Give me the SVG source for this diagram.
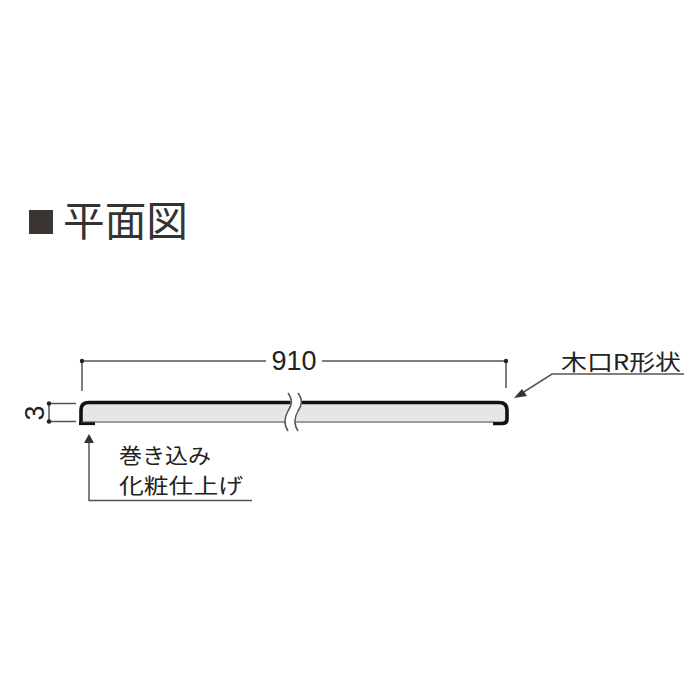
<svg xmlns="http://www.w3.org/2000/svg" width="700" height="700" viewBox="0 0 700 700">
<style>
text{font-family:"Liberation Sans","Noto Sans CJK JP",sans-serif;fill:#222}
.jp{font-family:"Noto Sans CJK JP",sans-serif;font-weight:400}
.thin{fill:none;stroke:#555;stroke-width:1.500}
.dot{fill:#222}
.ah{fill:#333}
</style>
<rect width="700" height="700" fill="#fff"/>
<g id="title">
<rect x="29" y="210" width="24" height="24" fill="#3a3533"/>
<text class="jp" x="63" y="236" font-size="41" textLength="125" lengthAdjust="spacingAndGlyphs" style="fill:#333">平面図</text>
</g>
<g id="board">
<path d="M81 423V410Q81 403 89 403H499Q507 403 507 410V421Q507 423 503 423H81Z" fill="#e6e6e6" stroke="none"/>
<path d="M81 423.500V410Q81 402.500 89 402.500H499Q507 402.500 507 410V419Q507 423.500 502 423.500H493" fill="none" stroke="#111" stroke-width="3.600"/>
<path d="M79 423.500H95" stroke="#111" stroke-width="3.200" fill="none"/>
<path d="M81 422H494" stroke="#555" stroke-width="1.200"/>
<path d="M286 392C292 400 292 404 288 411C284 419 284 425 288 432H299C295 425 295 419 299 411C303 404 303 400 298 392Z" fill="#fff"/>
<path d="M288 393C293 400 292 405 288 411C284 418 284 425 288 431M298 393C303 400 302 405 298 411C294 418 294 425 298 431" class="thin"/>
</g>
<g id="connectors">
<path class="thin" d="M82 391V361H266M322 361H506V388"/>
<circle class="dot" cx="82" cy="361" r="2.200"/>
<circle class="dot" cx="506" cy="361" r="2.200"/>
<path class="thin" d="M76 403.500H49V421.500H76"/>
<circle class="dot" cx="49" cy="403.500" r="2.200"/>
<circle class="dot" cx="49" cy="421.500" r="2.200"/>
<path class="thin" d="M89 442V500.500H252"/>
<path class="ah" d="M89 434L94 443H84Z"/>
<path class="thin" d="M519 395L552 374H684"/>
<path class="ah" d="M514 398L522 389L527 396Z"/>
</g>
<g id="labels">
<text x="294" y="370" font-size="27" text-anchor="middle">910</text>
<text x="0" y="0" font-size="27" text-anchor="middle" transform="translate(44 413) rotate(-90)">3</text>
<text class="jp" x="561" y="370" font-size="22" textLength="120" lengthAdjust="spacingAndGlyphs">木口R形状</text>
<text class="jp" x="119" y="463" font-size="21" textLength="92" lengthAdjust="spacingAndGlyphs">巻き込み</text>
<text class="jp" x="119" y="493" font-size="21" textLength="124" lengthAdjust="spacingAndGlyphs">化粧仕上げ</text>
</g>
</svg>
